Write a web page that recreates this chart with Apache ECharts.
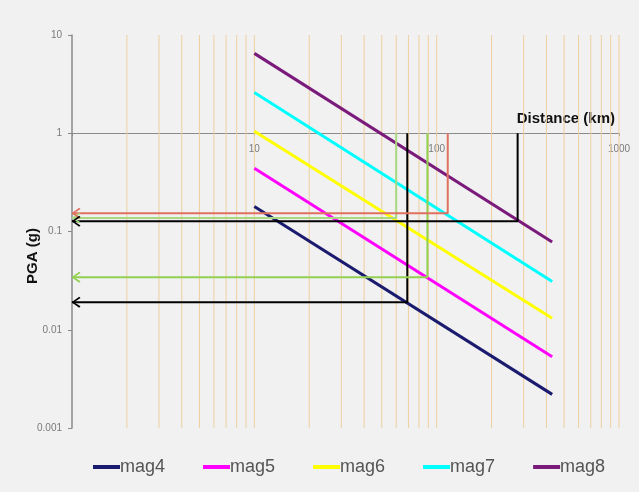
<!DOCTYPE html>
<html>
<head>
<meta charset="utf-8">
<script src="https://cdn.jsdelivr.net/npm/echarts@6/dist/echarts.min.js"></script>
<style>
html,body{margin:0;padding:0;background:#f4f4f4;}
#chart{width:639px;height:492px;}
</style>
</head>
<body>
<div id="chart"></div>
<script>
// ---- data ----
const distances = [10, 430];
const mag4 = [0.18, 0.0022];
const mag5 = [0.44, 0.0053];
const mag6 = [1.05, 0.0131];
const mag7 = [2.6, 0.031];
const mag8 = [6.5, 0.078];
const seriesNames = ['mag4', 'mag5', 'mag6', 'mag7', 'mag8'];

// reading lines: distance (km) and PGA (g)
const readDist = [69, 89, 60, 115, 278];
const readPGA = [0.0191, 0.0343, 0.137, 0.1535, 0.127];

// vertical grid lines (km)
const gridX = [2,3,4,5,6,7,8,9,10,20,30,40,50,60,70,80,90,100,200,300,400,500,600,700,800,900,1000];

const xTickValues = [1, 10, 100, 1000];
const xTickLabels = ['', '10', '100', '1000'];
const yTickValues = [0.001, 0.01, 0.1, 1, 10];
const yTickLabels = ['0.001', '0.01', '0.1', '1', '10'];

// ---- build ----
const FONT = 'Liberation Sans, Arial, sans-serif';
const magColors = ['#1a1a6e', '#ff00ff', '#ffff00', '#00ffff', '#7a1a7a'];
const readColors = ['#000000', '#92d050', '#a8d880', '#e0705f', '#000000'];
const arrowPath = 'path://M9,0 L10.5,1.4 L3,6 L10.5,10.6 L9,12 L0,6 Z';

function pair(arr) { return distances.map((d, i) => [d, arr[i]]); }
const magData = [mag4, mag5, mag6, mag7, mag8];

function tickLabel(values, labels, v) {
  const lv = Math.log10(v);
  for (let i = 0; i < values.length; i++) {
    if (Math.abs(Math.log10(values[i]) - lv) < 1e-6) return labels[i];
  }
  return '';
}

const series = [];
series.push({
  type: 'custom',
  name: 'grid',
  silent: true,
  z: 1,
  data: gridX.map(x => [x]),
  renderItem: function (params, api) {
    const x = api.value(0);
    const p1 = api.coord([x, 10]);
    const p2 = api.coord([x, 0.001]);
    return {
      type: 'line',
      shape: { x1: p1[0], y1: p1[1], x2: p2[0], y2: p2[1] },
      style: { stroke: '#efcfa0', lineWidth: 1 }
    };
  }
});

magData.forEach((arr, i) => {
  series.push({
    type: 'line',
    name: seriesNames[i],
    data: pair(arr),
    symbol: 'none',
    z: 3,
    lineStyle: { color: magColors[i], width: 3 },
    itemStyle: { color: magColors[i] }
  });
});

readDist.forEach((d, i) => {
  const v = readPGA[i];
  series.push({
    type: 'line',
    name: 'read' + i,
    clip: false,
    z: 4,
    symbol: 'none',
    showSymbol: true,
    lineStyle: { color: readColors[i], width: 2 },
    itemStyle: { color: readColors[i] },
    data: [
      [d, 1],
      [d, v],
      { value: [1, v], symbol: arrowPath, symbolSize: [9, 11], symbolKeepAspect: false, symbolOffset: [4, 0] }
    ],
    silent: true
  });
});

const option = {
  backgroundColor: '#f1f1f1',
  animation: false,
  textStyle: { fontFamily: FONT },
  grid: { left: 72, right: 20, top: 35, bottom: 64, containLabel: false },
  legend: {
    data: seriesNames,
    left: 88,
    top: 453,
    icon: 'rect',
    itemWidth: 27,
    itemHeight: 4,
    itemGap: 38,
    textStyle: { color: '#555555', fontSize: 18, fontFamily: FONT, padding: [0, 0, 0, -5] }
  },
  xAxis: {
    type: 'log',
    logBase: 10,
    min: 1,
    max: 1000,
    position: 'bottom',
    offset: -295,
    name: 'Distance (km)',
    nameLocation: 'end',
    nameGap: -4,
    nameTextStyle: { fontSize: 15, fontWeight: 'bold', color: '#111', align: 'right', verticalAlign: 'bottom', padding: [0, 0, 7, 0], fontFamily: FONT },
    axisLine: { show: true, lineStyle: { color: '#8a8a8a', width: 1 } },
    axisTick: { show: true, length: 3, lineStyle: { color: '#8a8a8a' } },
    axisLabel: {
      color: '#7a7a7a', fontSize: 10, margin: 11,
      formatter: v => tickLabel(xTickValues, xTickLabels, v)
    },
    splitLine: { show: false },
    minorTick: { show: false }
  },
  yAxis: {
    type: 'log',
    logBase: 10,
    min: 0.001,
    max: 10,
    axisLine: { show: true, lineStyle: { color: '#8a8a8a', width: 1.5 } },
    axisTick: { show: true, length: 4, lineStyle: { color: '#8a8a8a' } },
    axisLabel: {
      color: '#7a7a7a', fontSize: 10, margin: 10,
      formatter: v => tickLabel(yTickValues, yTickLabels, v)
    },
    splitLine: { show: false }
  },
  graphic: [
    {
      type: 'text',
      x: 33, y: 256,
      rotation: Math.PI / 2,
      style: { text: 'PGA (g)', font: 'bold 15px ' + FONT, fill: '#111', align: 'center', verticalAlign: 'middle' }
    }
  ],
  series: series
};

const chart = echarts.init(document.getElementById('chart'), null, { renderer: 'canvas' });
chart.setOption(option);
</script>
</body>
</html>
